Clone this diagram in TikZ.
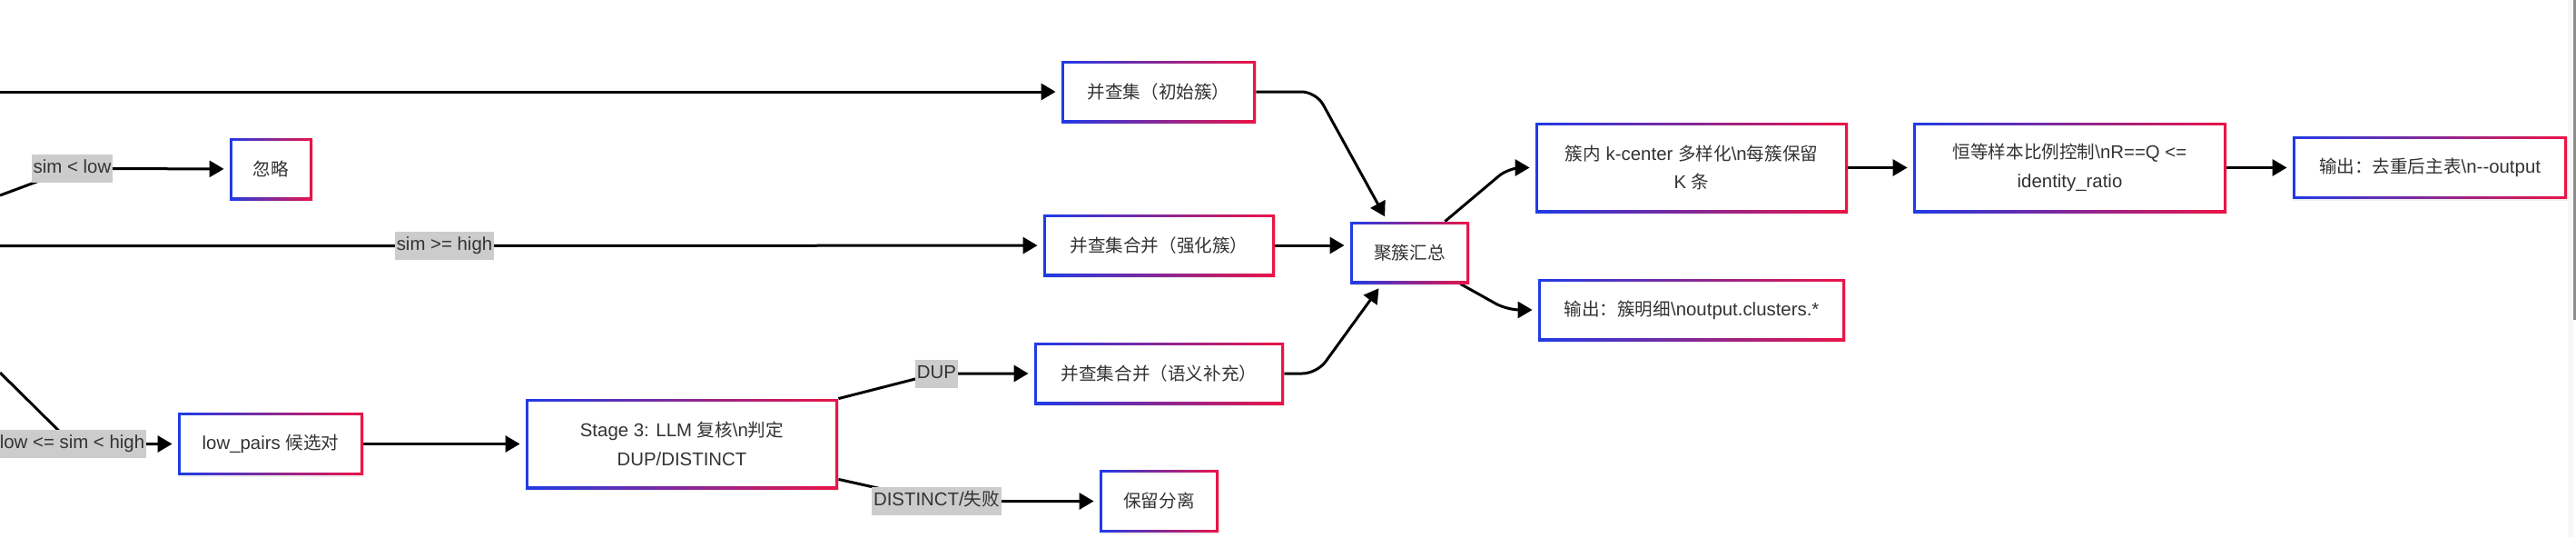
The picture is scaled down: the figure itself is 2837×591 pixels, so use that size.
\documentclass[tikz,border=0pt]{standalone}
\usepackage{fontspec}
\setmainfont{Liberation Sans}
\newfontfamily\zh{Noto Sans CJK SC}[Scale=0.96]
\usepackage{tikz}
\usetikzlibrary{arrows.meta,shadows,backgrounds}
\definecolor{boxblue}{HTML}{1F3BE8}
\definecolor{boxred}{HTML}{EC1446}
\definecolor{ink}{HTML}{333333}
\definecolor{tagfill}{HTML}{CCCCCC}
\newcommand{\boxfont}{\fontsize{10.2}{15.75}\selectfont}
\tikzset{
  stagebox/.style={rectangle, inner sep=0pt, minimum height=34pt, align=center,
    text=ink, font=\boxfont, left color=boxblue, right color=boxred,
    drop shadow={shadow xshift=0.5pt, shadow yshift=-1pt, opacity=0.12},
    path picture={\fill[white] ([shift={(1.4pt,1.4pt)}]path picture bounding box.south west)
      rectangle ([shift={(-1.4pt,-1.4pt)}]path picture bounding box.north east);}},
  tallbox/.style={stagebox, minimum height=49.5pt},
  edgetag/.style={fill=tagfill, inner xsep=0.8pt, inner ysep=0pt, minimum height=15.5pt,
    text height=7.4pt, text depth=2.3pt, text=ink, font=\boxfont},
  flow/.style={line width=1.5pt, -{Triangle[length=8pt,width=9pt]}, shorten >=3pt},
}

\begin{document}
\begin{tikzpicture}[x=0.5pt,y=-0.5pt]
  \useasboundingbox (0,0) rectangle (2837,591);

  % pairs coming in from the left
  \coordinate (srcA) at (0,101);
  \coordinate (srcB) at (0,215);
  \coordinate (srcC) at (0,270.5);
  \coordinate (srcD) at (0,410);

  % clusters
  \node[stagebox, minimum width=107pt] (init) at (1276,101) {{\zh 并查集（初始簇）}};
  \node[stagebox, minimum width=45.5pt] (ignore) at (298.5,186) {{\zh 忽略}};
  \node[stagebox, minimum width=127.5pt] (strong) at (1276.5,270) {{\zh 并查集合并（强化簇）}};
  \node[stagebox, minimum width=65.5pt] (agg) at (1552.5,278) {{\zh 聚簇汇总}};
  \node[tallbox, minimum width=172pt] (kcenter) at (1863,184.5)
    {{\zh 簇内} k-center {\zh 多样化}\textbackslash n{\zh 每簇保留}\\K {\zh 条}};
  \node[tallbox, minimum width=172.5pt] (ratio) at (2279.5,184.5)
    {{\zh 恒等样本比例控制}\textbackslash nR==Q <=\\identity\_ratio};
  \node[stagebox, minimum width=151pt] (dedup) at (2676,184.5)
    {{\zh 输出：去重后主表}\textbackslash n-\kern0pt-output};
  \node[stagebox, minimum width=169pt] (detail) at (1863,341)
    {{\zh 输出：簇明细}\textbackslash noutput.clusters.*};

  % stage 3
  \node[stagebox, minimum width=102pt] (pairs) at (298,488.5) {low\_pairs {\zh 候选对}};
  \node[tallbox, minimum width=172pt] (llm) at (751,488.5)
    {Stage 3: LLM {\zh 复核}\textbackslash n{\zh 判定}\\DUP/DISTINCT};
  \node[stagebox, minimum width=137.5pt] (semantic) at (1276.5,411) {{\zh 并查集合并（语义补充）}};
  \node[stagebox, minimum width=65.5pt] (keep) at (1276.5,551.5) {{\zh 保留分离}};

  % edge tags
  \node[edgetag] (lowtag) at (79.5,185.5) {sim < low};
  \node[edgetag] (hightag) at (489.5,270.5) {sim >= high};
  \node[edgetag] (midtag) at (79.5,488.5) {low <= sim < high};
  \node[edgetag] (duptag) at (1031.5,411) {DUP};
  \node[edgetag] (disttag) at (1031.5,551.5) {DISTINCT/{\zh 失败}};

  \begin{scope}[on background layer]
    \fill[white] (0,0) rectangle (2837,591);
    \fill[gray!6] (2828,0) rectangle (2833.5,591);
    \fill[black!45] (2833.5,0) rectangle (2837,352);

    \draw[flow] (srcA) -- (init);
    \draw[flow] (srcB) -- (lowtag.center) -- (ignore);
    \draw[flow] (srcC) -- (hightag.center) -- (strong);
    \draw[flow] (srcD) -- (midtag.center) -- (pairs);
    \draw[flow] (pairs) -- (llm);
    \draw[flow] (llm.north east) -- (duptag.center) -- (semantic);
    \draw[flow] ([yshift=5.5pt]llm.south east) -- (disttag.center) -- (keep);

    \draw[flow, rounded corners=8pt] (init.east) -- ++(66,0) -- ([xshift=-12.25pt]agg.north);
    \draw[flow] (strong.east) -- (strong.east -| agg.west);
    \draw[flow, rounded corners=8pt] (semantic.east) -- ++(36,0) -- ([xshift=-15.25pt]agg.south);
    \draw[flow, rounded corners=7pt] ([xshift=-13.5pt]agg.north east) -- ([xshift=-14.5pt]kcenter.west) -- (kcenter.west);
    \draw[flow, rounded corners=7pt] ([xshift=-5pt]agg.south east) -- ([xshift=-17pt]detail.west) -- (detail.west);
    \draw[flow] (kcenter) -- (ratio);
    \draw[flow] (ratio) -- (dedup);
  \end{scope}
\end{tikzpicture}
\end{document}
